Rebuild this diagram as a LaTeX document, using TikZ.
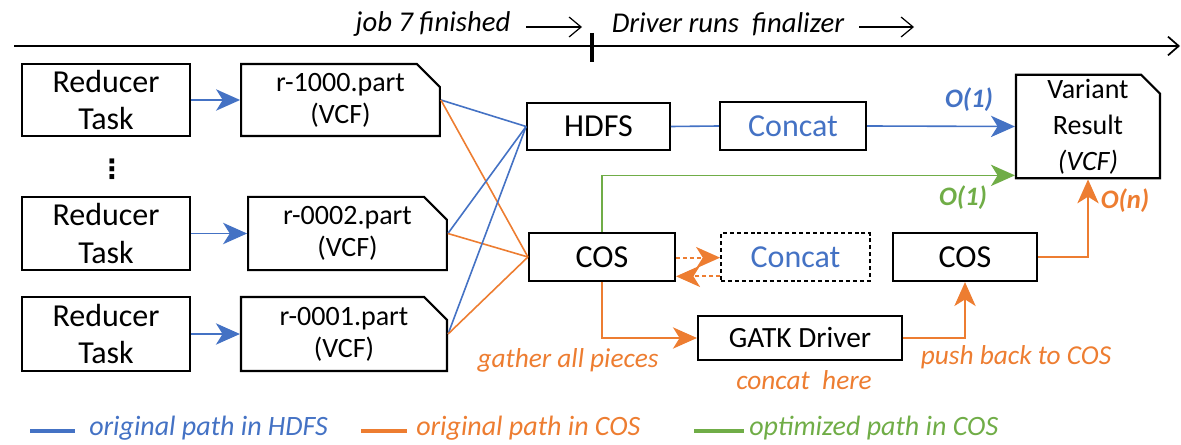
\documentclass[tikz,border=0pt]{standalone}
\usepackage{fontspec}
\setmainfont{Carlito}
\newfontfamily\djv{DejaVu Sans}
\usetikzlibrary{arrows.meta,shapes.misc}
\definecolor{oblue}{HTML}{4472C4}
\definecolor{oorange}{HTML}{ED7D31}
\definecolor{ogreen}{HTML}{70AD47}
\begin{document}
\begin{tikzpicture}[x=0.75pt,y=-0.75pt,
  box/.style={draw, line width=1.6pt, inner sep=0pt, align=center, font=\fontsize{24}{28}\selectfont},
  part/.style={box, chamfered rectangle, chamfered rectangle corners=north east, chamfered rectangle xsep=14pt, font=\fontsize{21}{24}\selectfont},
  bl/.style={draw=oblue, line width=1.2pt},
  orl/.style={draw=oorange, line width=1.2pt},
  grl/.style={draw=ogreen, line width=1.2pt},
  arr/.style={-{Stealth[length=18pt,width=16pt,inset=5pt]}},
  dsh/.style={dash pattern=on 3pt off 2.2pt},
  lbl/.style={inner sep=0pt, font=\fontsize{20.5}{24}\selectfont\itshape},
  olbl/.style={inner sep=0pt, font=\fontsize{20}{24}\selectfont\bfseries\itshape},
  tltxt/.style={inner sep=0pt, font=\fontsize{21.5}{24}\selectfont\itshape},
  barb/.style={line width=0.9pt, -{Straight Barb[length=9pt,width=15pt]}},
  leg/.style={line width=2.4pt}
]
\useasboundingbox (0,0) rectangle (1181,445);

% timeline
\coordinate (tl0) at (14,46);
\coordinate (tl1) at (1180,46);
\draw[line width=1.3pt, -{Straight Barb[length=8pt,width=14pt]}] (tl0) -- (tl1);
\coordinate (tk0) at (592,33);
\coordinate (tk1) at (592,62);
\draw[line width=2.4pt] (tk0) -- (tk1);
\node[tltxt] (job) at (433,24) {job 7 finished};
\node[tltxt] (drv) at (728,24) {Driver runs~ finalizer};
\coordinate (ja0) at (526,27); \coordinate (ja1) at (582,27);
\coordinate (da0) at (859,27); \coordinate (da1) at (914,27);
\draw[barb] (ja0) -- (ja1);
\draw[barb] (da0) -- (da1);

% reducers
\node[box, minimum width=126pt, minimum height=54pt] (r1) at (106,100) {Reducer\\Task};
\node[box, minimum width=126pt, minimum height=55pt] (r2) at (106,233.5) {Reducer\\Task};
\node[box, minimum width=126pt, minimum height=55.5pt] (r3) at (106,334) {Reducer\\Task};
\node[inner sep=0pt, font=\fontsize{20}{20}\selectfont\djv\bfseries] (dots) at (112,169) {⋮};

% part files
\node[part, minimum width=149pt, minimum height=54pt] (p1) at (340.5,100) {r-1000.part\\(VCF)};
\node[part, minimum width=149pt, minimum height=55pt] (p2) at (347.5,233.5) {r-0002.part\\(VCF)};
\node[part, minimum width=154.5pt, minimum height=55.5pt] (p3) at (344,334) {r-0001.part\\(VCF)};

% middle boxes
\node[box, minimum width=107pt, minimum height=35.5pt] (hdfs) at (598.5,126.5) {HDFS};
\node[box, minimum width=109.5pt, minimum height=36pt] (cos1) at (602,257) {COS};
\node[box, minimum width=109.5pt, minimum height=36pt, text=oblue] (con1) at (793,126) {Concat};
\node[box, dsh, minimum width=111.5pt, minimum height=36pt, text=oblue] (con2) at (795.5,257) {Concat};
\node[box, minimum width=108pt, minimum height=36pt] (cos2) at (965,257) {COS};
\node[box, minimum width=153pt, minimum height=33pt, font=\fontsize{22}{26}\selectfont] (gatk) at (800,338) {GATK Driver};
\node[part, chamfered rectangle xsep=11pt, minimum width=108pt, minimum height=77pt, font=\fontsize{21}{27}\selectfont] (var) at (1088,126.5) {Variant\\Result\\\textit{(VCF)}};

% reducer -> part
\draw[bl,arr] (r1.east) -- (p1.west);
\draw[bl,arr] (r2.east) -- (p2.west);
\draw[bl,arr] (r3.east) -- (p3.west);

% part -> hdfs / cos
\foreach \p in {p1,p2,p3} {
  \draw[bl] (\p.east) -- (hdfs.west);
  \draw[orl] (\p.east) -- (cos1.west);
}

% hdfs path
\draw[bl] (hdfs.east) -- (con1.west);
\draw[bl,arr] (con1.east) -- (var.west);

% optimized path
\draw[grl,arr] (cos1.north) |- ([yshift=3pt]var.south west);

% cos path
\draw[orl,line width=1.4pt,dsh,arr] ([yshift=-0.5pt]cos1.east) -- ([yshift=-0.5pt]con2.west);
\draw[orl,line width=1.4pt,dsh,arr] ([yshift=-14.5pt]con2.west) -- ([yshift=-14.5pt]cos1.east);
\draw[orl,arr] (cos1.south) |- (gatk.west);
\draw[orl,arr] (gatk.east) -| (cos2.south);
\draw[orl,arr] (cos2.east) -| (var.south);

% labels
\node[olbl, text=oblue] (o1) at (969,100) {O(1)};
\node[olbl, text=ogreen] (o2) at (963,198) {O(1)};
\node[olbl, text=oorange] (on) at (1125,201) {O(n)};
\node[lbl, text=oorange] (gath) at (568,360) {gather all pieces};
\node[lbl, text=oorange] (cch) at (804,380) {concat~ here};
\node[lbl, text=oorange] (push) at (1016,357) {push back to COS};

% legend
\coordinate (lb0) at (30,431); \coordinate (lb1) at (75,431);
\coordinate (lo0) at (361,431); \coordinate (lo1) at (407,431);
\coordinate (lg0) at (694,431); \coordinate (lg1) at (744,431);
\draw[leg, oblue] (lb0) -- (lb1);
\draw[leg, oorange] (lo0) -- (lo1);
\draw[leg, ogreen] (lg0) -- (lg1);
\node[lbl, anchor=west, text=oblue, font=\fontsize{21}{24}\selectfont\itshape] (lbt) at (89,428) {original path in HDFS};
\node[lbl, anchor=west, text=oorange, font=\fontsize{21}{24}\selectfont\itshape] (lot) at (416,428) {original path in COS};
\node[lbl, anchor=west, text=ogreen, font=\fontsize{21}{24}\selectfont\itshape] (lgt) at (749,428) {optimized path in COS};
\end{tikzpicture}
\end{document}
